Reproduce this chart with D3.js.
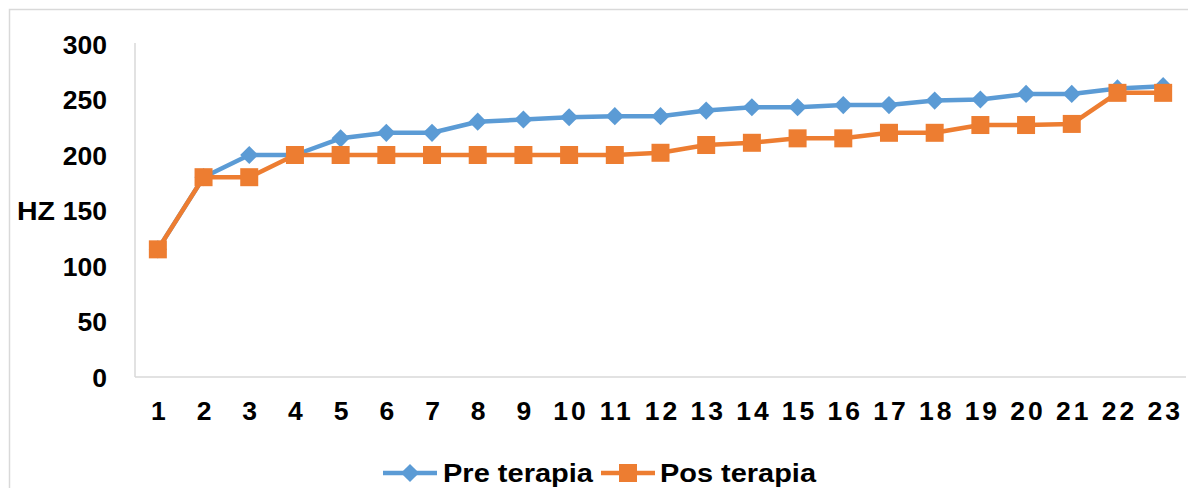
<!DOCTYPE html>
<html>
<head>
<meta charset="utf-8">
<script src="https://cdn.jsdelivr.net/npm/d3@7"></script>
<style>
  html, body { margin: 0; padding: 0; background: #fff; }
  svg { display: block; }
  text { font-family: "Liberation Sans", Arial, sans-serif; font-weight: bold; fill: #000; }
</style>
</head>
<body>
<svg id="chart" width="1188" height="488"></svg>
<script>
const categories = ["1","2","3","4","5","6","7","8","9","10","11","12","13","14","15","16","17","18","19","20","21","22","23"];
const preTerapia = [115,180,200,200,215,220,220,230,232,234,235,235,240,243,243,245,245,249,250,255,255,260,262];
const posTerapia = [115,180,180,200,200,200,200,200,200,200,200,202,209,211,215,215,220,220,227,227,228,256,256];
const yTicks = [0,50,100,150,200,250,300];
const seriesNames = ["Pre terapia","Pos terapia"];
const yLabel = "HZ";

(function () {
const svg = d3.select("#chart");
const colors = ["#5B9BD5", "#ED7D31"];

// outer chart border
svg.append("rect").attr("x", 9.5).attr("y", 9.5).attr("width", 1200).attr("height", 500)
  .attr("fill", "none").attr("stroke", "#d9d9d9").attr("stroke-width", 1.5);

const pLeft = 135, pRight = 1186, pTop = 44, pBottom = 377;
const x = d3.scaleBand().domain(categories).range([pLeft, pRight]);
const y = d3.scaleLinear().domain([0, 300]).range([pBottom, pTop]);

// axes lines
svg.append("line").attr("x1", pLeft).attr("x2", pLeft).attr("y1", pTop - 1).attr("y2", pBottom)
  .attr("stroke", "#d9d9d9").attr("stroke-width", 1.5);
svg.append("line").attr("x1", pLeft).attr("x2", pRight).attr("y1", pBottom).attr("y2", pBottom)
  .attr("stroke", "#d9d9d9").attr("stroke-width", 1.5);

// y tick labels
svg.append("g").selectAll("text").data(yTicks).join("text")
  .attr("x", 107).attr("y", d => y(d) + 9.5)
  .attr("text-anchor", "end").attr("font-size", 26.5)
  .text(d => d);

// y label
svg.append("text").attr("x", 17).attr("y", y(150) + 9.5).attr("font-size", 26.5)
  .attr("textLength", 38).attr("lengthAdjust", "spacingAndGlyphs").text(yLabel);

// x tick labels
svg.append("g").selectAll("text").data(categories).join("text")
  .attr("x", d => x(d) + x.bandwidth() / 2 + 2).attr("y", 420)
  .attr("text-anchor", "middle").attr("font-size", 26.5).attr("letter-spacing", 3)
  .text(d => d);

const cx = (d, i) => x(categories[i]) + x.bandwidth() / 2;
const line = d3.line().x((d, i) => cx(d, i)).y(d => y(d));

const diamond = d3.symbol().type(d3.symbolSquare).size(165);

function drawSeries(vals, color, type) {
  svg.append("path").datum(vals).attr("d", line).attr("fill", "none")
    .attr("stroke", color).attr("stroke-width", 4.5).attr("stroke-linejoin", "round");
  const g = svg.append("g");
  if (type === "diamond") {
    g.selectAll("path").data(vals).join("path")
      .attr("d", diamond)
      .attr("transform", (d, i) => `translate(${cx(d, i)},${y(d)}) rotate(45)`)
      .attr("fill", color);
  } else {
    g.selectAll("rect").data(vals).join("rect")
      .attr("x", (d, i) => cx(d, i) - 9).attr("y", d => y(d) - 9)
      .attr("width", 18).attr("height", 18).attr("fill", color);
  }
}
drawSeries(preTerapia, colors[0], "diamond");
drawSeries(posTerapia, colors[1], "square");

// legend
const legend = [
  { name: seriesNames[0], color: colors[0], type: "diamond", x0: 383, tx: 443, tw: 150 },
  { name: seriesNames[1], color: colors[1], type: "square", x0: 601, tx: 660, tw: 156 }
];
const ly = 473;
legend.forEach(l => {
  svg.append("line").attr("x1", l.x0).attr("x2", l.x0 + 54).attr("y1", ly).attr("y2", ly)
    .attr("stroke", l.color).attr("stroke-width", 4.5);
  if (l.type === "diamond") {
    svg.append("path").attr("d", diamond)
      .attr("transform", `translate(${l.x0 + 27},${ly}) rotate(45)`).attr("fill", l.color);
  } else {
    svg.append("rect").attr("x", l.x0 + 27 - 9).attr("y", ly - 9).attr("width", 18).attr("height", 18)
      .attr("fill", l.color);
  }
  svg.append("text").attr("x", l.tx).attr("y", 482).attr("font-size", 26.5)
    .attr("textLength", l.tw).attr("lengthAdjust", "spacingAndGlyphs").text(l.name);
});
})();
</script>
</body>
</html>
